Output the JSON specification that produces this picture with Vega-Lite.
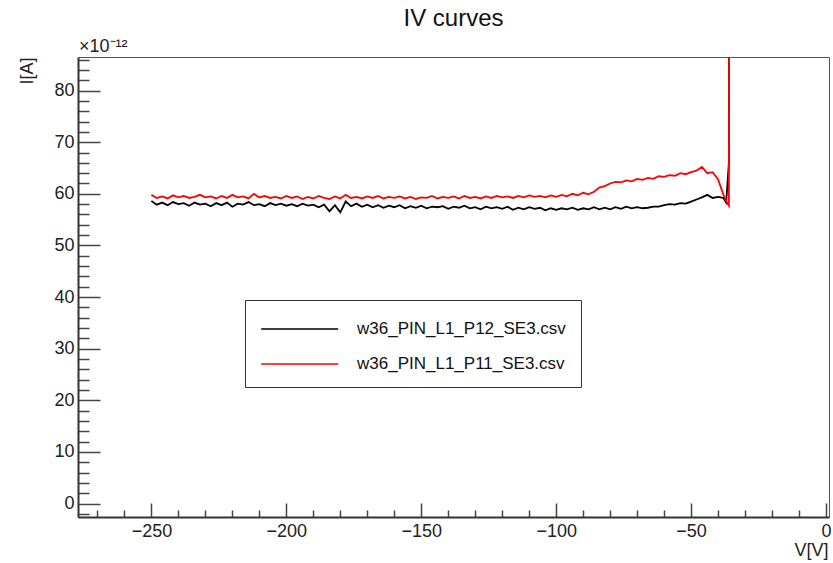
{
  "$schema": "https://vega.github.io/schema/vega-lite/v6.json",
  "width": 751,
  "height": 460,
  "autosize": {"type": "none"},
  "padding": {"left": 78, "top": 57, "right": 4, "bottom": 46},
  "background": "white",
  "title": {"text": "IV curves", "fontSize": 24, "font": "Liberation Sans", "fontWeight": "normal", "color": "#111", "anchor": "middle", "offset": 7},
  "config": {"view": {"stroke": "#555", "strokeWidth": 1}},
  "layer": [
    {
      "data": {"values": [
        {"V":-250,"I":58.6,"s":"w36_PIN_L1_P12_SE3.csv"},{"V":-248,"I":57.9,"s":"w36_PIN_L1_P12_SE3.csv"},{"V":-246,"I":58.3,"s":"w36_PIN_L1_P12_SE3.csv"},{"V":-244,"I":57.8,"s":"w36_PIN_L1_P12_SE3.csv"},{"V":-242,"I":58.4,"s":"w36_PIN_L1_P12_SE3.csv"},{"V":-240,"I":58.0,"s":"w36_PIN_L1_P12_SE3.csv"},{"V":-238,"I":58.2,"s":"w36_PIN_L1_P12_SE3.csv"},{"V":-236,"I":57.7,"s":"w36_PIN_L1_P12_SE3.csv"},{"V":-234,"I":58.3,"s":"w36_PIN_L1_P12_SE3.csv"},{"V":-232,"I":57.9,"s":"w36_PIN_L1_P12_SE3.csv"},
        {"V":-230,"I":58.1,"s":"w36_PIN_L1_P12_SE3.csv"},{"V":-228,"I":57.6,"s":"w36_PIN_L1_P12_SE3.csv"},{"V":-226,"I":58.2,"s":"w36_PIN_L1_P12_SE3.csv"},{"V":-224,"I":57.8,"s":"w36_PIN_L1_P12_SE3.csv"},{"V":-222,"I":58.3,"s":"w36_PIN_L1_P12_SE3.csv"},{"V":-220,"I":57.5,"s":"w36_PIN_L1_P12_SE3.csv"},{"V":-218,"I":58.1,"s":"w36_PIN_L1_P12_SE3.csv"},{"V":-216,"I":57.9,"s":"w36_PIN_L1_P12_SE3.csv"},{"V":-214,"I":58.4,"s":"w36_PIN_L1_P12_SE3.csv"},{"V":-212,"I":57.8,"s":"w36_PIN_L1_P12_SE3.csv"},
        {"V":-210,"I":58.0,"s":"w36_PIN_L1_P12_SE3.csv"},{"V":-208,"I":57.6,"s":"w36_PIN_L1_P12_SE3.csv"},{"V":-206,"I":58.2,"s":"w36_PIN_L1_P12_SE3.csv"},{"V":-204,"I":57.8,"s":"w36_PIN_L1_P12_SE3.csv"},{"V":-202,"I":58.1,"s":"w36_PIN_L1_P12_SE3.csv"},{"V":-200,"I":57.7,"s":"w36_PIN_L1_P12_SE3.csv"},{"V":-198,"I":58.0,"s":"w36_PIN_L1_P12_SE3.csv"},{"V":-196,"I":57.6,"s":"w36_PIN_L1_P12_SE3.csv"},{"V":-194,"I":58.1,"s":"w36_PIN_L1_P12_SE3.csv"},{"V":-192,"I":57.7,"s":"w36_PIN_L1_P12_SE3.csv"},
        {"V":-190,"I":57.9,"s":"w36_PIN_L1_P12_SE3.csv"},{"V":-188,"I":57.4,"s":"w36_PIN_L1_P12_SE3.csv"},{"V":-186,"I":57.9,"s":"w36_PIN_L1_P12_SE3.csv"},{"V":-184,"I":56.6,"s":"w36_PIN_L1_P12_SE3.csv"},{"V":-182,"I":57.8,"s":"w36_PIN_L1_P12_SE3.csv"},{"V":-180,"I":56.4,"s":"w36_PIN_L1_P12_SE3.csv"},{"V":-178,"I":58.5,"s":"w36_PIN_L1_P12_SE3.csv"},{"V":-176,"I":57.6,"s":"w36_PIN_L1_P12_SE3.csv"},{"V":-174,"I":58.1,"s":"w36_PIN_L1_P12_SE3.csv"},{"V":-172,"I":57.5,"s":"w36_PIN_L1_P12_SE3.csv"},
        {"V":-170,"I":57.9,"s":"w36_PIN_L1_P12_SE3.csv"},{"V":-168,"I":57.4,"s":"w36_PIN_L1_P12_SE3.csv"},{"V":-166,"I":57.8,"s":"w36_PIN_L1_P12_SE3.csv"},{"V":-164,"I":57.3,"s":"w36_PIN_L1_P12_SE3.csv"},{"V":-162,"I":57.7,"s":"w36_PIN_L1_P12_SE3.csv"},{"V":-160,"I":57.4,"s":"w36_PIN_L1_P12_SE3.csv"},{"V":-158,"I":57.8,"s":"w36_PIN_L1_P12_SE3.csv"},{"V":-156,"I":57.2,"s":"w36_PIN_L1_P12_SE3.csv"},{"V":-154,"I":57.6,"s":"w36_PIN_L1_P12_SE3.csv"},{"V":-152,"I":57.3,"s":"w36_PIN_L1_P12_SE3.csv"},
        {"V":-150,"I":57.7,"s":"w36_PIN_L1_P12_SE3.csv"},{"V":-148,"I":57.2,"s":"w36_PIN_L1_P12_SE3.csv"},{"V":-146,"I":57.5,"s":"w36_PIN_L1_P12_SE3.csv"},{"V":-144,"I":57.4,"s":"w36_PIN_L1_P12_SE3.csv"},{"V":-142,"I":57.6,"s":"w36_PIN_L1_P12_SE3.csv"},{"V":-140,"I":57.1,"s":"w36_PIN_L1_P12_SE3.csv"},{"V":-138,"I":57.5,"s":"w36_PIN_L1_P12_SE3.csv"},{"V":-136,"I":57.3,"s":"w36_PIN_L1_P12_SE3.csv"},{"V":-134,"I":57.7,"s":"w36_PIN_L1_P12_SE3.csv"},{"V":-132,"I":57.2,"s":"w36_PIN_L1_P12_SE3.csv"},
        {"V":-130,"I":57.4,"s":"w36_PIN_L1_P12_SE3.csv"},{"V":-128,"I":57.0,"s":"w36_PIN_L1_P12_SE3.csv"},{"V":-126,"I":57.5,"s":"w36_PIN_L1_P12_SE3.csv"},{"V":-124,"I":57.2,"s":"w36_PIN_L1_P12_SE3.csv"},{"V":-122,"I":57.4,"s":"w36_PIN_L1_P12_SE3.csv"},{"V":-120,"I":57.1,"s":"w36_PIN_L1_P12_SE3.csv"},{"V":-118,"I":57.5,"s":"w36_PIN_L1_P12_SE3.csv"},{"V":-116,"I":56.9,"s":"w36_PIN_L1_P12_SE3.csv"},{"V":-114,"I":57.3,"s":"w36_PIN_L1_P12_SE3.csv"},{"V":-112,"I":57.0,"s":"w36_PIN_L1_P12_SE3.csv"},
        {"V":-110,"I":57.4,"s":"w36_PIN_L1_P12_SE3.csv"},{"V":-108,"I":57.1,"s":"w36_PIN_L1_P12_SE3.csv"},{"V":-106,"I":57.3,"s":"w36_PIN_L1_P12_SE3.csv"},{"V":-104,"I":56.8,"s":"w36_PIN_L1_P12_SE3.csv"},{"V":-102,"I":57.2,"s":"w36_PIN_L1_P12_SE3.csv"},{"V":-100,"I":56.9,"s":"w36_PIN_L1_P12_SE3.csv"},{"V":-98,"I":57.2,"s":"w36_PIN_L1_P12_SE3.csv"},{"V":-96,"I":57.0,"s":"w36_PIN_L1_P12_SE3.csv"},{"V":-94,"I":57.3,"s":"w36_PIN_L1_P12_SE3.csv"},{"V":-92,"I":56.9,"s":"w36_PIN_L1_P12_SE3.csv"},
        {"V":-90,"I":57.2,"s":"w36_PIN_L1_P12_SE3.csv"},{"V":-88,"I":57.0,"s":"w36_PIN_L1_P12_SE3.csv"},{"V":-86,"I":57.4,"s":"w36_PIN_L1_P12_SE3.csv"},{"V":-84,"I":57.0,"s":"w36_PIN_L1_P12_SE3.csv"},{"V":-82,"I":57.3,"s":"w36_PIN_L1_P12_SE3.csv"},{"V":-80,"I":57.0,"s":"w36_PIN_L1_P12_SE3.csv"},{"V":-78,"I":57.4,"s":"w36_PIN_L1_P12_SE3.csv"},{"V":-76,"I":57.1,"s":"w36_PIN_L1_P12_SE3.csv"},{"V":-74,"I":57.5,"s":"w36_PIN_L1_P12_SE3.csv"},{"V":-72,"I":57.2,"s":"w36_PIN_L1_P12_SE3.csv"},
        {"V":-70,"I":57.4,"s":"w36_PIN_L1_P12_SE3.csv"},{"V":-68,"I":57.2,"s":"w36_PIN_L1_P12_SE3.csv"},{"V":-66,"I":57.3,"s":"w36_PIN_L1_P12_SE3.csv"},{"V":-64,"I":57.5,"s":"w36_PIN_L1_P12_SE3.csv"},{"V":-62,"I":57.5,"s":"w36_PIN_L1_P12_SE3.csv"},{"V":-60,"I":57.8,"s":"w36_PIN_L1_P12_SE3.csv"},{"V":-58,"I":58.0,"s":"w36_PIN_L1_P12_SE3.csv"},{"V":-56,"I":57.9,"s":"w36_PIN_L1_P12_SE3.csv"},{"V":-54,"I":58.2,"s":"w36_PIN_L1_P12_SE3.csv"},{"V":-52,"I":58.1,"s":"w36_PIN_L1_P12_SE3.csv"},
        {"V":-50,"I":58.5,"s":"w36_PIN_L1_P12_SE3.csv"},{"V":-48,"I":58.9,"s":"w36_PIN_L1_P12_SE3.csv"},{"V":-46,"I":59.3,"s":"w36_PIN_L1_P12_SE3.csv"},{"V":-44,"I":59.8,"s":"w36_PIN_L1_P12_SE3.csv"},{"V":-42,"I":59.2,"s":"w36_PIN_L1_P12_SE3.csv"},{"V":-40,"I":59.4,"s":"w36_PIN_L1_P12_SE3.csv"},{"V":-38,"I":59.2,"s":"w36_PIN_L1_P12_SE3.csv"},{"V":-37,"I":58.3,"s":"w36_PIN_L1_P12_SE3.csv"},{"V":-36,"I":66.0,"s":"w36_PIN_L1_P12_SE3.csv"},{"V":-35,"I":500,"s":"w36_PIN_L1_P12_SE3.csv"},
        {"V":-250,"I":59.8,"s":"w36_PIN_L1_P11_SE3.csv"},{"V":-248,"I":59.2,"s":"w36_PIN_L1_P11_SE3.csv"},{"V":-246,"I":59.5,"s":"w36_PIN_L1_P11_SE3.csv"},{"V":-244,"I":59.1,"s":"w36_PIN_L1_P11_SE3.csv"},{"V":-242,"I":59.7,"s":"w36_PIN_L1_P11_SE3.csv"},{"V":-240,"I":59.3,"s":"w36_PIN_L1_P11_SE3.csv"},{"V":-238,"I":59.6,"s":"w36_PIN_L1_P11_SE3.csv"},{"V":-236,"I":59.2,"s":"w36_PIN_L1_P11_SE3.csv"},{"V":-234,"I":59.4,"s":"w36_PIN_L1_P11_SE3.csv"},{"V":-232,"I":59.8,"s":"w36_PIN_L1_P11_SE3.csv"},
        {"V":-230,"I":59.3,"s":"w36_PIN_L1_P11_SE3.csv"},{"V":-228,"I":59.5,"s":"w36_PIN_L1_P11_SE3.csv"},{"V":-226,"I":59.1,"s":"w36_PIN_L1_P11_SE3.csv"},{"V":-224,"I":59.6,"s":"w36_PIN_L1_P11_SE3.csv"},{"V":-222,"I":59.2,"s":"w36_PIN_L1_P11_SE3.csv"},{"V":-220,"I":59.8,"s":"w36_PIN_L1_P11_SE3.csv"},{"V":-218,"I":59.3,"s":"w36_PIN_L1_P11_SE3.csv"},{"V":-216,"I":59.5,"s":"w36_PIN_L1_P11_SE3.csv"},{"V":-214,"I":59.1,"s":"w36_PIN_L1_P11_SE3.csv"},{"V":-212,"I":60.0,"s":"w36_PIN_L1_P11_SE3.csv"},
        {"V":-210,"I":59.3,"s":"w36_PIN_L1_P11_SE3.csv"},{"V":-208,"I":59.6,"s":"w36_PIN_L1_P11_SE3.csv"},{"V":-206,"I":59.2,"s":"w36_PIN_L1_P11_SE3.csv"},{"V":-204,"I":59.4,"s":"w36_PIN_L1_P11_SE3.csv"},{"V":-202,"I":59.1,"s":"w36_PIN_L1_P11_SE3.csv"},{"V":-200,"I":59.6,"s":"w36_PIN_L1_P11_SE3.csv"},{"V":-198,"I":59.2,"s":"w36_PIN_L1_P11_SE3.csv"},{"V":-196,"I":59.5,"s":"w36_PIN_L1_P11_SE3.csv"},{"V":-194,"I":59.0,"s":"w36_PIN_L1_P11_SE3.csv"},{"V":-192,"I":59.4,"s":"w36_PIN_L1_P11_SE3.csv"},
        {"V":-190,"I":59.1,"s":"w36_PIN_L1_P11_SE3.csv"},{"V":-188,"I":59.6,"s":"w36_PIN_L1_P11_SE3.csv"},{"V":-186,"I":59.2,"s":"w36_PIN_L1_P11_SE3.csv"},{"V":-184,"I":59.0,"s":"w36_PIN_L1_P11_SE3.csv"},{"V":-182,"I":59.5,"s":"w36_PIN_L1_P11_SE3.csv"},{"V":-180,"I":59.1,"s":"w36_PIN_L1_P11_SE3.csv"},{"V":-178,"I":59.8,"s":"w36_PIN_L1_P11_SE3.csv"},{"V":-176,"I":59.2,"s":"w36_PIN_L1_P11_SE3.csv"},{"V":-174,"I":59.4,"s":"w36_PIN_L1_P11_SE3.csv"},{"V":-172,"I":59.1,"s":"w36_PIN_L1_P11_SE3.csv"},
        {"V":-170,"I":59.5,"s":"w36_PIN_L1_P11_SE3.csv"},{"V":-168,"I":59.2,"s":"w36_PIN_L1_P11_SE3.csv"},{"V":-166,"I":59.6,"s":"w36_PIN_L1_P11_SE3.csv"},{"V":-164,"I":59.1,"s":"w36_PIN_L1_P11_SE3.csv"},{"V":-162,"I":59.4,"s":"w36_PIN_L1_P11_SE3.csv"},{"V":-160,"I":59.2,"s":"w36_PIN_L1_P11_SE3.csv"},{"V":-158,"I":59.5,"s":"w36_PIN_L1_P11_SE3.csv"},{"V":-156,"I":59.1,"s":"w36_PIN_L1_P11_SE3.csv"},{"V":-154,"I":59.4,"s":"w36_PIN_L1_P11_SE3.csv"},{"V":-152,"I":59.0,"s":"w36_PIN_L1_P11_SE3.csv"},
        {"V":-150,"I":59.3,"s":"w36_PIN_L1_P11_SE3.csv"},{"V":-148,"I":59.2,"s":"w36_PIN_L1_P11_SE3.csv"},{"V":-146,"I":59.6,"s":"w36_PIN_L1_P11_SE3.csv"},{"V":-144,"I":59.1,"s":"w36_PIN_L1_P11_SE3.csv"},{"V":-142,"I":59.4,"s":"w36_PIN_L1_P11_SE3.csv"},{"V":-140,"I":59.2,"s":"w36_PIN_L1_P11_SE3.csv"},{"V":-138,"I":59.5,"s":"w36_PIN_L1_P11_SE3.csv"},{"V":-136,"I":59.1,"s":"w36_PIN_L1_P11_SE3.csv"},{"V":-134,"I":59.6,"s":"w36_PIN_L1_P11_SE3.csv"},{"V":-132,"I":59.2,"s":"w36_PIN_L1_P11_SE3.csv"},
        {"V":-130,"I":59.4,"s":"w36_PIN_L1_P11_SE3.csv"},{"V":-128,"I":59.1,"s":"w36_PIN_L1_P11_SE3.csv"},{"V":-126,"I":59.5,"s":"w36_PIN_L1_P11_SE3.csv"},{"V":-124,"I":59.2,"s":"w36_PIN_L1_P11_SE3.csv"},{"V":-122,"I":59.6,"s":"w36_PIN_L1_P11_SE3.csv"},{"V":-120,"I":59.3,"s":"w36_PIN_L1_P11_SE3.csv"},{"V":-118,"I":59.5,"s":"w36_PIN_L1_P11_SE3.csv"},{"V":-116,"I":59.2,"s":"w36_PIN_L1_P11_SE3.csv"},{"V":-114,"I":59.6,"s":"w36_PIN_L1_P11_SE3.csv"},{"V":-112,"I":59.3,"s":"w36_PIN_L1_P11_SE3.csv"},
        {"V":-110,"I":59.7,"s":"w36_PIN_L1_P11_SE3.csv"},{"V":-108,"I":59.4,"s":"w36_PIN_L1_P11_SE3.csv"},{"V":-106,"I":59.6,"s":"w36_PIN_L1_P11_SE3.csv"},{"V":-104,"I":59.3,"s":"w36_PIN_L1_P11_SE3.csv"},{"V":-102,"I":59.7,"s":"w36_PIN_L1_P11_SE3.csv"},{"V":-100,"I":59.4,"s":"w36_PIN_L1_P11_SE3.csv"},{"V":-98,"I":59.8,"s":"w36_PIN_L1_P11_SE3.csv"},{"V":-96,"I":59.5,"s":"w36_PIN_L1_P11_SE3.csv"},{"V":-94,"I":60.0,"s":"w36_PIN_L1_P11_SE3.csv"},{"V":-92,"I":59.7,"s":"w36_PIN_L1_P11_SE3.csv"},
        {"V":-90,"I":60.2,"s":"w36_PIN_L1_P11_SE3.csv"},{"V":-88,"I":59.9,"s":"w36_PIN_L1_P11_SE3.csv"},{"V":-86,"I":60.4,"s":"w36_PIN_L1_P11_SE3.csv"},{"V":-84,"I":61.2,"s":"w36_PIN_L1_P11_SE3.csv"},{"V":-82,"I":61.5,"s":"w36_PIN_L1_P11_SE3.csv"},{"V":-80,"I":62.0,"s":"w36_PIN_L1_P11_SE3.csv"},{"V":-78,"I":62.3,"s":"w36_PIN_L1_P11_SE3.csv"},{"V":-76,"I":62.2,"s":"w36_PIN_L1_P11_SE3.csv"},{"V":-74,"I":62.6,"s":"w36_PIN_L1_P11_SE3.csv"},{"V":-72,"I":62.4,"s":"w36_PIN_L1_P11_SE3.csv"},
        {"V":-70,"I":62.9,"s":"w36_PIN_L1_P11_SE3.csv"},{"V":-68,"I":62.7,"s":"w36_PIN_L1_P11_SE3.csv"},{"V":-66,"I":63.1,"s":"w36_PIN_L1_P11_SE3.csv"},{"V":-64,"I":62.9,"s":"w36_PIN_L1_P11_SE3.csv"},{"V":-62,"I":63.4,"s":"w36_PIN_L1_P11_SE3.csv"},{"V":-60,"I":63.3,"s":"w36_PIN_L1_P11_SE3.csv"},{"V":-58,"I":63.6,"s":"w36_PIN_L1_P11_SE3.csv"},{"V":-56,"I":63.5,"s":"w36_PIN_L1_P11_SE3.csv"},{"V":-54,"I":64.0,"s":"w36_PIN_L1_P11_SE3.csv"},{"V":-52,"I":63.8,"s":"w36_PIN_L1_P11_SE3.csv"},
        {"V":-50,"I":64.2,"s":"w36_PIN_L1_P11_SE3.csv"},{"V":-48,"I":64.5,"s":"w36_PIN_L1_P11_SE3.csv"},{"V":-46,"I":65.2,"s":"w36_PIN_L1_P11_SE3.csv"},{"V":-44,"I":64.0,"s":"w36_PIN_L1_P11_SE3.csv"},{"V":-42,"I":64.2,"s":"w36_PIN_L1_P11_SE3.csv"},{"V":-40,"I":62.8,"s":"w36_PIN_L1_P11_SE3.csv"},{"V":-38,"I":59.8,"s":"w36_PIN_L1_P11_SE3.csv"},{"V":-37,"I":58.6,"s":"w36_PIN_L1_P11_SE3.csv"},{"V":-36,"I":57.7,"s":"w36_PIN_L1_P11_SE3.csv"},{"V":-35,"I":500,"s":"w36_PIN_L1_P11_SE3.csv"}
      ]},
      "mark": {"type": "line", "clip": true, "strokeWidth": 1.8},
      "encoding": {
        "x": {
          "field": "V", "type": "quantitative",
          "scale": {"domain": [-277.2, 1.1], "nice": false, "zero": false},
          "axis": {
            "values": [-270,-260,-250,-240,-230,-220,-210,-200,-190,-180,-170,-160,-150,-140,-130,-120,-110,-100,-90,-80,-70,-60,-50,-40,-30,-20,-10,0],
            "tickCount": 100,
            "tickSize": {"condition": {"test": "datum.value % 50 === 0", "value": -14}, "value": -7},
            "labelExpr": "datum.value % 50 === 0 ? datum.label : ''",
            "format": "d",
            "labelFontSize": 18, "labelFont": "Liberation Sans", "labelColor": "#222", "labelPadding": 19,
            "labelOverlap": false, "labelFlush": false, "labelBound": false,
            "title": "V[V]", "titleX": 750, "titleY": 33, "titleAlign": "right", "titleBaseline": "middle",
            "titleFontSize": 18, "titleFont": "Liberation Sans", "titleFontWeight": "normal", "titleColor": "#222",
            "grid": false, "domainColor": "#333", "domainWidth": 2, "tickColor": "#444", "tickWidth": 1.5
          }
        },
        "y": {
          "field": "I", "type": "quantitative",
          "scale": {"domain": [-2.6, 86.5], "nice": false, "zero": false},
          "axis": {
            "values": [-2,0,2,4,6,8,10,12,14,16,18,20,22,24,26,28,30,32,34,36,38,40,42,44,46,48,50,52,54,56,58,60,62,64,66,68,70,72,74,76,78,80,82,84,86],
            "tickCount": 100,
            "tickSize": {"condition": {"test": "datum.value % 10 === 0", "value": -22}, "value": -11},
            "labelExpr": "datum.value % 10 === 0 ? datum.label : ''",
            "format": "d",
            "labelFontSize": 18, "labelFont": "Liberation Sans", "labelColor": "#222", "labelPadding": 26,
            "labelOverlap": false, "labelFlush": false, "labelBound": false,
            "title": "I[A]", "titleX": -51, "titleY": 0, "titleAngle": -90, "titleAlign": "right", "titleBaseline": "middle",
            "titleFontSize": 18, "titleFont": "Liberation Sans", "titleFontWeight": "normal", "titleColor": "#222",
            "grid": false, "domainColor": "#333", "domainWidth": 2, "tickColor": "#444", "tickWidth": 1.5
          }
        },
        "color": {
          "field": "s", "type": "nominal",
          "scale": {"domain": ["w36_PIN_L1_P12_SE3.csv", "w36_PIN_L1_P11_SE3.csv"], "range": ["#000000", "#ff0000"]},
          "legend": {
            "orient": "none", "legendX": 167, "legendY": 243, "title": null,
            "strokeColor": "#333", "fillColor": "white", "padding": 15,
            "symbolType": "M-1,0H5", "symbolSize": 659, "symbolStrokeWidth": 1.5,
            "labelFontSize": 17, "labelFont": "Liberation Sans", "labelColor": "#111", "labelOffset": 69, "labelLimit": 400,
            "rowPadding": 13
          }
        }
      }
    },
    {
      "data": {"values": [{"t": "×10⁻¹²"}]},
      "mark": {"type": "text", "align": "left", "baseline": "bottom", "fontSize": 18, "font": "Liberation Sans", "color": "#222", "dx": 1, "dy": -1},
      "encoding": {
        "x": {"datum": -277.2},
        "y": {"datum": 86.5},
        "text": {"field": "t"}
      }
    }
  ]
}
